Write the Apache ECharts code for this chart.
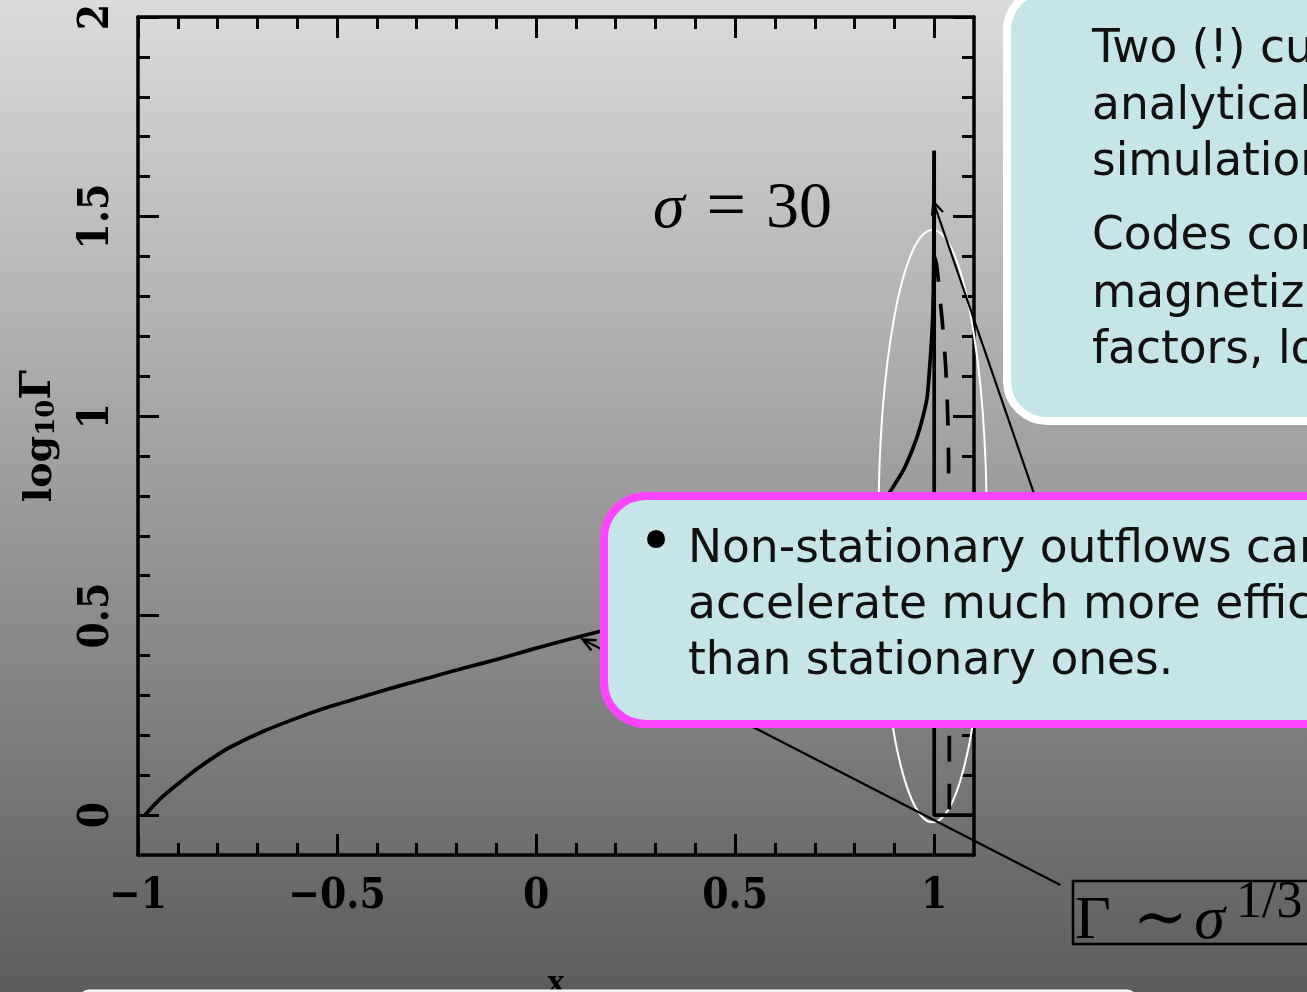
<!DOCTYPE html>
<html><head><meta charset="utf-8">
<script src="https://cdn.jsdelivr.net/npm/echarts@6/dist/echarts.min.js"></script>
<style>html,body{margin:0;padding:0;width:1307px;height:992px;overflow:hidden;background:#888;}#c{width:1307px;height:992px;}</style>
</head><body><div id="c"></div>
<script>
// ---- ticks ----
const xMajorTicks = [-1, -0.5, 0, 0.5, 1];
const xMinorTicks = [-0.9, -0.8, -0.7, -0.6, -0.4, -0.3, -0.2, -0.1, 0.1, 0.2, 0.3, 0.4, 0.6, 0.7, 0.8, 0.9];
const yMajorTicks = [0, 0.5, 1, 1.5, 2];
const yMinorTicks = [0.1, 0.2, 0.3, 0.4, 0.6, 0.7, 0.8, 0.9, 1.1, 1.2, 1.3, 1.4, 1.6, 1.7, 1.8, 1.9];

// ---- solid curve: stationary solution rising to the peak at x = 1 ----
const curveX = [-0.982, -0.97, -0.955, -0.936, -0.915, -0.894, -0.853, -0.811, -0.769, -0.685, -0.601, -0.518, -0.434, -0.35, -0.266, -0.183, -0.099, -0.015, 0.069, 0.152, 0.25, 0.35, 0.45, 0.55, 0.65, 0.72, 0.78, 0.83, 0.865, 0.889, 0.923, 0.948, 0.965, 0.982, 0.99, 0.994, 0.997, 0.999, 1.0];
const curveY = [0, 0.014, 0.03, 0.048, 0.066, 0.083, 0.115, 0.144, 0.17, 0.21, 0.243, 0.272, 0.297, 0.322, 0.345, 0.368, 0.39, 0.414, 0.437, 0.458, 0.484, 0.512, 0.542, 0.575, 0.613, 0.645, 0.68, 0.725, 0.772, 0.81, 0.865, 0.923, 0.973, 1.045, 1.14, 1.2, 1.27, 1.4, 1.665];
// ---- solid jump back to log Gamma = 0 ahead of the front ----
const jumpX = [1.0, 1.0, 1.1];
const jumpY = [1.665, 0, 0];

// ---- dashed curve ----
const dashedX = [1.0, 1.005, 1.01, 1.015, 1.02, 1.025, 1.029, 1.032, 1.034, 1.036, 1.037, 1.038, 1.038];
const dashedY = [1.40, 1.385, 1.345, 1.29, 1.24, 1.18, 1.12, 1.06, 1.0, 0.9, 0.7, 0.4, 0];

// ---- annotations (data coordinates) ----
const ellipseCenter = [0.996, 0.724];
const ellipseRadii = [0.136, 0.742];
const arrowStarts = [[1.317, -0.175], [1.317, 0.614]];
const arrowTips = [[0.117, 0.44], [0.998, 1.537]];

const tickFont = "'DejaVu Serif Condensed', 'DejaVu Serif', serif";
const textFont = "'DejaVu Sans', sans-serif";
const serifFont = "'Liberation Serif', 'DejaVu Serif', serif";

function fmt(v) { return String(v).replace('-', '\u2212'); }

function xAxisCfg(position, ticks, len, showLine, showLabel) {
  return {
    type: 'value', min: -1, max: 1.1, position: position,
    axisLine: { show: showLine, onZero: false, lineStyle: { color: '#000', width: 3.5 } },
    axisTick: { show: true, inside: true, length: len, customValues: ticks, lineStyle: { color: '#000', width: 3 } },
    axisLabel: showLabel ? { show: true, customValues: ticks, formatter: fmt, color: '#000', fontFamily: tickFont, fontWeight: 'bold', fontSize: 42, margin: 21 } : { show: false },
    splitLine: { show: false }
  };
}
function yAxisCfg(position, ticks, len, showLine, showLabel) {
  return {
    type: 'value', min: -0.1, max: 2, position: position,
    axisLine: { show: showLine, onZero: false, lineStyle: { color: '#000', width: 3.5 } },
    axisTick: { show: true, inside: true, length: len, customValues: ticks, lineStyle: { color: '#000', width: 3 } },
    axisLabel: showLabel ? { show: true, customValues: ticks, rotate: 90, formatter: fmt, color: '#000', fontFamily: tickFont, fontWeight: 'bold', fontSize: 42, margin: 20 } : { show: false },
    splitLine: { show: false }
  };
}

const xAxes = [
  xAxisCfg('bottom', xMajorTicks, 21, true, true),
  xAxisCfg('bottom', xMinorTicks, 12, false, false),
  xAxisCfg('top', xMajorTicks, 21, true, false),
  xAxisCfg('top', xMinorTicks, 12, false, false)
];
Object.assign(xAxes[0], { name: 'x', nameLocation: 'middle', nameGap: 111, nameTextStyle: { color: '#000', fontFamily: serifFont, fontWeight: 'bold', fontSize: 36 } });
const yAxes = [
  yAxisCfg('left', yMajorTicks, 21, true, true),
  yAxisCfg('left', yMinorTicks, 12, false, false),
  yAxisCfg('right', yMajorTicks, 21, true, false),
  yAxisCfg('right', yMinorTicks, 12, false, false)
];
Object.assign(yAxes[0], { name: '{a|log}{b|10}{c|\u0393}', nameLocation: 'middle', nameRotate: 90, nameGap: 78, nameTextStyle: { color: '#000', rich: {
  a: { fontFamily: "'DejaVu Serif', serif", fontWeight: 'bold', fontSize: 38, color: '#000', verticalAlign: 'bottom', lineHeight: 48 },
  b: { fontFamily: "'DejaVu Serif', serif", fontWeight: 'bold', fontSize: 26, color: '#000', verticalAlign: 'bottom', lineHeight: 42 },
  c: { fontFamily: "'DejaVu Serif', serif", fontWeight: 'bold', fontSize: 42, color: '#000', verticalAlign: 'bottom', lineHeight: 58 }
} } });

const curveData = curveX.map((x, i) => [x, curveY[i]]);
const jumpData = jumpX.map((x, i) => [x, jumpY[i]]);
const dashedData = dashedX.map((x, i) => [x, dashedY[i]]);
const arrowData = arrowStarts.map((s, i) => [s[0], s[1], arrowTips[i][0], arrowTips[i][1]]);

const chart = echarts.init(document.getElementById('c'), null, { renderer: 'canvas' });
chart.setOption({
  animation: false,
  backgroundColor: { type: 'linear', x: 0, y: 0, x2: 0, y2: 1, colorStops: [{ offset: 0, color: '#dbdbdb' }, { offset: 1, color: '#5c5c5c' }] },
  grid: { left: 138, top: 17, right: 333, bottom: 137, outerBoundsMode: 'none', containLabel: false },
  xAxis: xAxes,
  yAxis: yAxes,
  series: [
    {
      type: 'custom', z: 1, xAxisIndex: 0, yAxisIndex: 0, silent: true,
      data: [[ellipseCenter[0], ellipseCenter[1], ellipseRadii[0], ellipseRadii[1]]],
      renderItem: function (params, api) {
        const c = api.coord([api.value(0), api.value(1)]);
        const s = api.size([api.value(2), api.value(3)]);
        return { type: 'ellipse', shape: { cx: c[0], cy: c[1], rx: s[0], ry: s[1] }, style: { fill: null, stroke: '#ffffff', lineWidth: 2 } };
      }
    },
    {
      type: 'line', z: 3, xAxisIndex: 0, yAxisIndex: 0, data: curveData, showSymbol: false, symbol: 'none',
      smooth: 0.2,
      lineStyle: { color: '#000', width: 3.7 }
    },
    {
      type: 'line', z: 3, xAxisIndex: 0, yAxisIndex: 0, data: jumpData, showSymbol: false, symbol: 'none',
      lineStyle: { color: '#000', width: 3.7 }
    },
    {
      type: 'line', z: 3, xAxisIndex: 0, yAxisIndex: 0, data: dashedData, showSymbol: false, symbol: 'none',
      smooth: 0.2,
      lineStyle: { color: '#000', width: 3.7, type: [26, 22] }
    },
    {
      type: 'custom', z: 4, xAxisIndex: 0, yAxisIndex: 0, silent: true, clip: false,
      data: arrowData,
      renderItem: function (params, api) {
        const a = api.coord([api.value(0), api.value(1)]);
        const b = api.coord([api.value(2), api.value(3)]);
        const ang = Math.atan2(a[1] - b[1], a[0] - b[0]);
        const L = 14, w = 0.42;
        const h1 = [b[0] + L * Math.cos(ang + w), b[1] + L * Math.sin(ang + w)];
        const h2 = [b[0] + L * Math.cos(ang - w), b[1] + L * Math.sin(ang - w)];
        return {
          type: 'group', children: [
            { type: 'line', shape: { x1: a[0], y1: a[1], x2: b[0], y2: b[1] }, style: { stroke: '#000', lineWidth: 2.2 } },
            { type: 'polyline', shape: { points: [h1, b, h2] }, style: { stroke: '#000', fill: null, lineWidth: 2.4 } }
          ]
        };
      }
    }
  ],
  graphic: [
    { type: 'text', z: 20, style: { x: 653, y: 210, text: '{s|\u03c3}{e|=}{n|30}', verticalAlign: 'middle', rich: {
      s: { fontFamily: serifFont, fontStyle: 'italic', fontSize: 64, fill: '#000' },
      e: { fontFamily: serifFont, fontSize: 70, fill: '#000', padding: [0, 0, 0, 22] },
      n: { fontFamily: serifFont, fontSize: 66, fill: '#000', padding: [0, 0, 0, 20] } } } },
    // Gamma ~ sigma^(1/3) box
    { type: 'rect', z: 20, shape: { x: 1073, y: 881, width: 320, height: 63 }, style: { fill: null, stroke: '#000', lineWidth: 2.5 } },
    { type: 'text', z: 21, style: { x: 1075, y: 922, text: '{g|\u0393}{t|\u223c}{s|\u03c3}', verticalAlign: 'middle', rich: {
      g: { fontFamily: serifFont, fontSize: 62, fill: '#000' },
      t: { fontFamily: serifFont, fontSize: 66, fill: '#000', padding: [0, 0, 0, 22] },
      s: { fontFamily: serifFont, fontStyle: 'italic', fontSize: 62, fill: '#000', padding: [0, 0, 0, 6] } } } },
    { type: 'text', z: 21, style: { x: 1236, y: 903, text: '1/3', verticalAlign: 'middle', fontFamily: serifFont, fontSize: 52, fill: '#000' } },
    // top-right callout
    { type: 'rect', z: 30, shape: { x: 1007, y: -10, width: 420, height: 431, r: 40 }, style: { fill: '#c5e5e8', stroke: '#ffffff', lineWidth: 8 } },
    { type: 'text', z: 31, style: { x: 1092, y: 50, text: 'Two (!) curves:', verticalAlign: 'middle', fontFamily: textFont, fontSize: 45.5, fill: '#111' } },
    { type: 'text', z: 31, style: { x: 1092, y: 107, text: 'analytical and', verticalAlign: 'middle', fontFamily: textFont, fontSize: 45.5, fill: '#111' } },
    { type: 'text', z: 31, style: { x: 1092, y: 163, text: 'simulations.', verticalAlign: 'middle', fontFamily: textFont, fontSize: 45.5, fill: '#111' } },
    { type: 'text', z: 31, style: { x: 1092, y: 237, text: 'Codes converge for', verticalAlign: 'middle', fontFamily: textFont, fontSize: 45.5, fill: '#111' } },
    { type: 'text', z: 31, style: { x: 1092, y: 295, text: 'magnetization', verticalAlign: 'middle', fontFamily: textFont, fontSize: 45.5, fill: '#111' } },
    { type: 'text', z: 31, style: { x: 1092, y: 351, text: 'factors, low', verticalAlign: 'middle', fontFamily: textFont, fontSize: 45.5, fill: '#111' } },
    // pink callout
    { type: 'rect', z: 40, shape: { x: 604, y: 496, width: 800, height: 228, r: 42 }, style: { fill: '#c5e5e8', stroke: '#ff44ff', lineWidth: 8 } },
    { type: 'text', z: 41, style: { x: 656, y: 546, text: '\u2022', align: 'center', verticalAlign: 'middle', fontFamily: textFont, fontSize: 62, fill: '#000' } },
    { type: 'text', z: 41, style: { x: 688, y: 550, text: 'Non-stationary outflows can', verticalAlign: 'middle', fontFamily: textFont, fontSize: 45.5, fill: '#111' } },
    { type: 'text', z: 41, style: { x: 688, y: 606, text: 'accelerate much more efficiently', verticalAlign: 'middle', fontFamily: textFont, fontSize: 45.5, fill: '#111' } },
    { type: 'text', z: 41, style: { x: 688, y: 662, text: 'than stationary ones.', verticalAlign: 'middle', fontFamily: textFont, fontSize: 45.5, fill: '#111' } },
    // bottom box (cut off)
    { type: 'rect', z: 50, shape: { x: 79, y: 990, width: 1058, height: 40, r: 10 }, style: { fill: '#f2f2f2', stroke: '#ffffff', lineWidth: 1 } }
  ]
});
</script></body></html>
